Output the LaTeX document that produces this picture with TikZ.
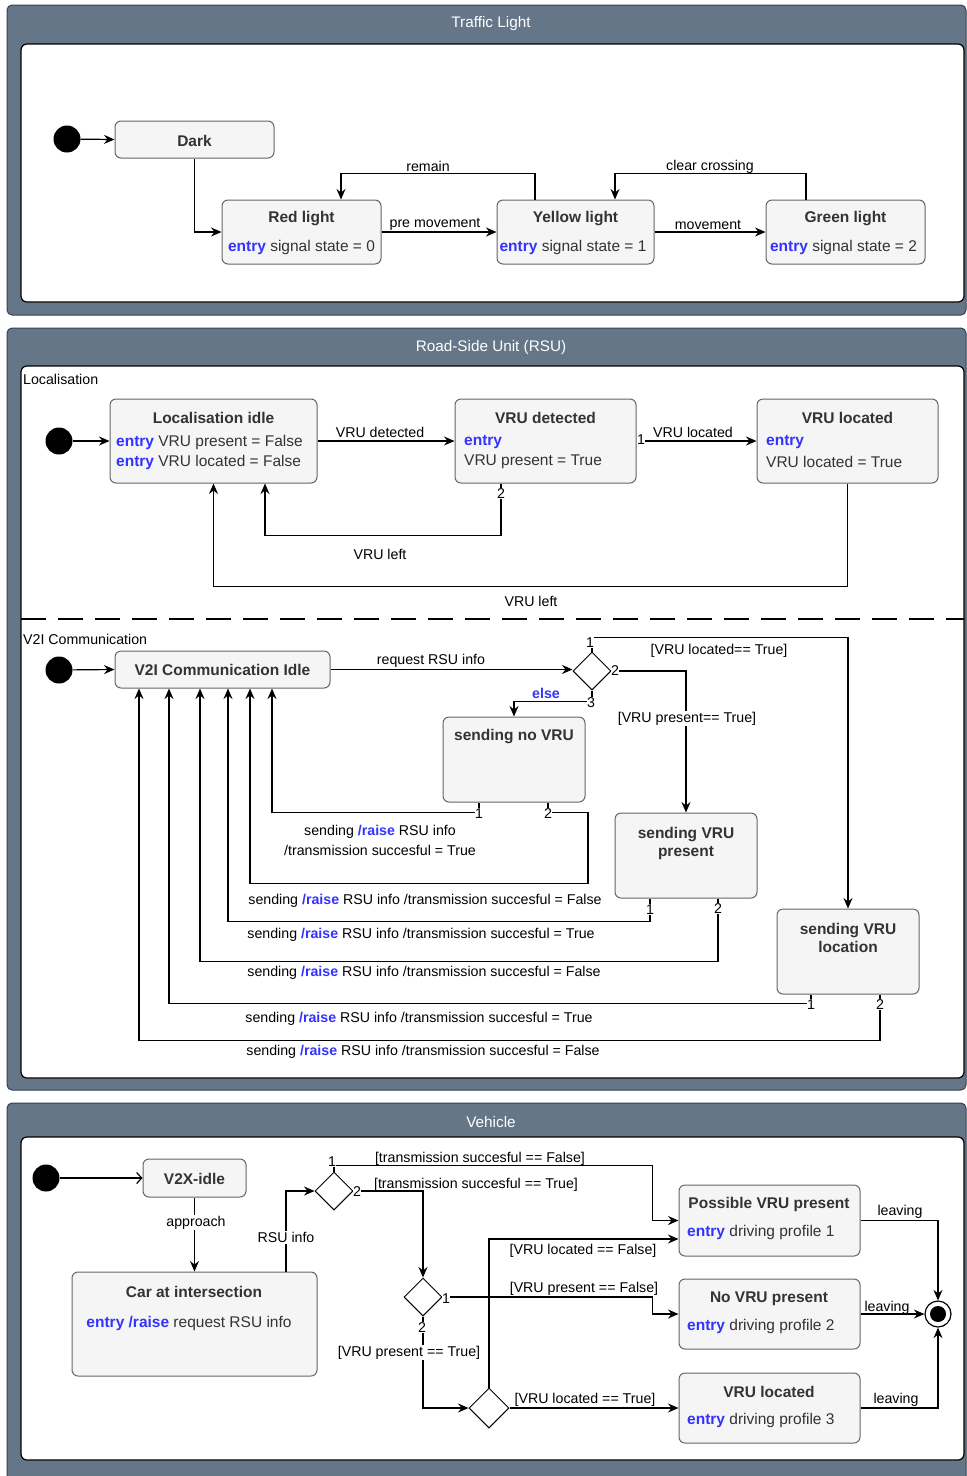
\documentclass[tikz,border=0pt]{standalone}
\usepackage{fontspec}
\setmainfont{Liberation Sans}
\usetikzlibrary{arrows.meta,shapes.geometric}
\definecolor{panel}{HTML}{647687}
\definecolor{panelb}{HTML}{314354}
\definecolor{boxf}{HTML}{F5F5F5}
\definecolor{boxd}{HTML}{666666}
\definecolor{boxt}{HTML}{333333}
\definecolor{kwblue}{HTML}{3333FF}
\newcommand\kw[1]{\textcolor{kwblue}{\bfseries #1}}
\newcommand\stbox[5]{\node[st,minimum width={(#4)-(#2)},minimum height={(#5)-(#3)}] (#1) at ({((#2)+(#4))/2},{((#3)+(#5))/2}) {};}
\tikzset{
  st/.style={draw=boxd,fill=boxf,rounded corners=6pt,line width=1pt,inner sep=0pt},
  ttl/.style={font=\fontsize{15.5}{18}\selectfont\bfseries,text=boxt,inner sep=0pt,yshift=-2pt},
  bd/.style={font=\fontsize{15.5}{18}\selectfont,text=boxt,inner sep=0pt,yshift=-2pt},
  bdl/.style={bd,anchor=west},
  lbl/.style={font=\fontsize{14.2}{16}\selectfont,inner sep=1pt,yshift=-1.5pt},
  wl/.style={lbl,fill=white},
  ptitle/.style={font=\fontsize{15.3}{18}\selectfont,text=white,yshift=-2pt},
  arr/.style={line width=1.2pt,-{Stealth[length=10.5pt,width=9pt,inset=3.5pt]}},
  oarr/.style={line width=1.2pt,-{Straight Barb[length=5pt,width=11pt]}},
  initc/.style={circle,fill=black,minimum size=27pt,inner sep=0pt},
  dia/.style={diamond,draw,fill=white,minimum size=38pt,inner sep=0pt,line width=1pt},
}
\begin{document}
\begin{tikzpicture}[x=1pt,y=-1pt]
\useasboundingbox (0,0) rectangle (967,1476);
\fill[white] (0,0) rectangle (967,1476);
% ---------- panels
\foreach \a/\b/\c/\d in {5/315/44/302, 328/1090/366/1078, 1103/1495/1137/1460}{
  \draw[fill=panel,draw=panelb,rounded corners=5pt,line width=1pt] (7,\a) rectangle (966,\b);
  \draw[fill=white,draw=black,rounded corners=6pt,line width=1.2pt] (21,\c) rectangle (964,\d);
}
\node[ptitle] (pt1) at (491,22) {Traffic Light};
\node[ptitle] (pt2) at (491,346) {Road-Side Unit (RSU)};
\node[ptitle] (pt3) at (491,1120) {Vehicle};

% ---------- Traffic light
\node[initc] (i1) at (67,139) {};
\stbox{dark}{115}{121}{274}{158}
\node[ttl] (dark-t) at (194.5,139) {Dark};
\stbox{red}{222}{200}{381}{264}
\node[ttl] (red-t) at (301.5,217) {Red light};
\node[bd] (red-e) at (301.5,245) {\kw{entry} signal state = 0};
\stbox{yel}{497}{200}{654}{264}
\node[ttl] (yel-t) at (575.5,217) {Yellow light};
\node[bd] (yel-e) at (573,245) {\kw{entry} signal state = 1};
\stbox{grn}{766}{200}{925}{264}
\node[ttl] (grn-t) at (845.5,217) {Green light};
\node[bd] (grn-e) at (843.5,245) {\kw{entry} signal state = 2};

\draw[arr] (i1) -- (dark.west);
\draw[arr] (dark.south) |- (red.west);
\draw[arr] (red.east) -- (yel.west);
\draw[arr] (yel.east) -- (grn.west);
\draw[arr] ([xshift=-40.5pt]yel.north) -- ++(0,-26) -| ([xshift=39.5pt]red.north);
\draw[arr] ([xshift=-39.5pt]grn.north) -- ++(0,-26) -| ([xshift=39.5pt]yel.north);
\node[lbl] (l-pre) at (435,223) {pre movement};
\node[lbl] (l-mov) at (708,223) {movement};
\node[lbl] (l-rem) at (428,165) {remain};
\node[lbl] (l-clr) at (710,165) {clear crossing};

% ---------- RSU: Localisation
\node[lbl,anchor=west,inner sep=0pt] (loc) at (23,378) {Localisation};
\draw[line width=1.3pt,dash pattern=on 25pt off 12pt] (21,619) -- (964,619);
\node[initc] (i2) at (59,441) {};
\stbox{lid}{110}{399}{317}{483}
\node[ttl] (lid-t) at (213.5,416) {Localisation idle};
\node[bdl] (lid-e1) at (116,440) {\kw{entry} VRU present = False};
\node[bdl] (lid-e2) at (116,460) {\kw{entry} VRU located = False};
\stbox{vdet}{455}{399}{636}{483}
\node[ttl] (vdet-t) at (545.5,416) {VRU detected};
\node[bdl] (vdet-e1) at (464,440) {\kw{entry}};
\node[bdl] (vdet-e2) at (464,460) {VRU present = True};
\stbox{vloc}{757}{399}{938}{483}
\node[ttl] (vloc-t) at (847.5,416) {VRU located};
\node[bdl] (vloc-e1) at (766,440) {\kw{entry}};
\node[bdl] (vloc-e2) at (766,460) {VRU located = True};

\draw[arr] (i2) -- (lid.west);
\draw[arr] (lid.east) -- (vdet.west);
\draw[arr] (vdet.east) -- (vloc.west);
\draw[arr] ([xshift=-44.5pt]vdet.south) -- ++(0,52) -| ([xshift=51.5pt]lid.south);
\draw[arr] (vloc.south) -- ++(0,103) -| (lid.south);
\node[lbl] (l-vd) at (380,431) {VRU detected};
\node[lbl] (l-vl) at (693,431) {VRU located};
\node[wl,inner sep=0.5pt] (n-1a) at (641,438) {1};
\node[wl] (n-2a) at (501,492) {2};
\node[lbl] (l-left1) at (380,553) {VRU left};
\node[lbl] (l-left2) at (531,600) {VRU left};

% ---------- RSU: V2I
\node[lbl,anchor=west,inner sep=0pt] (v2ic) at (23,638) {V2I Communication};
\node[initc] (i3) at (59,670) {};
\stbox{v2i}{115}{651}{330}{688}
\node[ttl] (v2i-t) at (222.5,668) {V2I Communication Idle};
\node[dia] (d1) at (592,671) {};
\stbox{snov}{443}{717}{585}{802}
\node[ttl] (snov-t) at (514,735) {sending no VRU};
\stbox{svp}{615}{813}{757}{898}
\node[ttl,align=center] (svp-t) at (686,841) {sending VRU\\present};
\stbox{svl}{777}{909}{919}{994}
\node[ttl,align=center] (svl-t) at (848,936) {sending VRU\\location};

\draw[arr] (i3) -- (v2i.west);
\draw[arr] (v2i.east) -- (v2i.east -| d1.west);
\draw[arr] (d1.north) -- ++(0,-14) -| (svl.north);
\draw[arr] (d1.east) -| (svp.north);
\draw[arr] (d1.south) -- ++(0,11) -| (snov.north);
\node[lbl] (l-req) at (431,659) {request RSU info};
\node[lbl] (l-loc) at (719,649) {[VRU located== True]};
\node[wl] (l-pres) at (687,717) {[VRU present== True]};
\node[lbl,text=kwblue,font=\fontsize{14.2}{16}\selectfont\bfseries] (l-else) at (546,692) {else};
\node[wl,inner sep=0.5pt] (n-d1a) at (590,641) {1};
\node[wl,inner sep=0.5pt] (n-d1b) at (615,669) {2};
\node[wl,inner sep=0.5pt] (n-d1c) at (591,701) {3};

% returns
\draw[arr] ([xshift=-35pt]snov.south) -- ++(0,10) -| ([xshift=49.5pt]v2i.south);
\draw[arr] ([xshift=34pt]snov.south) -- ++(0,10) -- ++(40,0) -- ++(0,71) -| ([xshift=27.5pt]v2i.south);
\draw[arr] ([xshift=-36pt]svp.south) -- ++(0,23) -| ([xshift=5.5pt]v2i.south);
\draw[arr] ([xshift=32pt]svp.south) -- ++(0,63) -| ([xshift=-22.5pt]v2i.south);
\draw[arr] ([xshift=-37pt]svl.south) -- ++(0,9) -| ([xshift=-53.5pt]v2i.south);
\draw[arr] ([xshift=32pt]svl.south) -- ++(0,46) -| ([xshift=-83.5pt]v2i.south);
\node[wl,inner sep=0.5pt] (n-s1) at (479,812) {1};
\node[wl,inner sep=0.5pt] (n-s2) at (548,812) {2};
\node[wl,inner sep=0.5pt] (n-p1) at (650,908) {1};
\node[wl,inner sep=0.5pt] (n-p2) at (718,907) {2};
\node[wl,inner sep=0.5pt] (n-l1) at (811,1003) {1};
\node[wl,inner sep=0.5pt] (n-l2) at (880,1003) {2};
\node[lbl] (r1a) at (380,830) {sending \kw{/raise} RSU info};
\node[lbl] (r1b) at (380,849) {/transmission succesful = True};
\node[lbl] (r2) at (425,899) {sending \kw{/raise} RSU info /transmission succesful = False};
\node[lbl] (r3) at (421,933) {sending \kw{/raise} RSU info /transmission succesful = True};
\node[lbl] (r4) at (424,971) {sending \kw{/raise} RSU info /transmission succesful = False};
\node[lbl] (r5) at (419,1017) {sending \kw{/raise} RSU info /transmission succesful = True};
\node[lbl] (r6) at (423,1050) {sending \kw{/raise} RSU info /transmission succesful = False};

% ---------- Vehicle
\node[initc] (i4) at (46,1178) {};
\stbox{v2x}{143}{1159}{246}{1197}
\node[ttl] (v2x-t) at (194.5,1177) {V2X-idle};
\stbox{car}{72}{1272}{317}{1376}
\node[ttl] (car-t) at (194,1290) {Car at intersection};
\node[bd] (car-e) at (189,1321) {\kw{entry /raise} request RSU info};
\node[dia] (vd1) at (334,1191) {};
\node[dia] (vd2) at (423,1297) {};
\node[dia,minimum size=40pt] (vd3) at (489,1408) {};
\stbox{pvp}{679}{1185}{860}{1256}
\node[ttl] (pvp-t) at (769,1202) {Possible VRU present};
\node[bdl] (pvp-e) at (687,1230) {\kw{entry} driving profile 1};
\stbox{nvp}{679}{1279}{860}{1349}
\node[ttl] (nvp-t) at (769,1297) {No VRU present};
\node[bdl] (nvp-e) at (687,1324) {\kw{entry} driving profile 2};
\stbox{vrul}{679}{1373}{860}{1443}
\node[ttl] (vrul-t) at (769,1390) {VRU located};
\node[bdl] (vrul-e) at (687,1418) {\kw{entry} driving profile 3};
\node[circle,draw,fill=white,line width=1.2pt,minimum size=26pt,inner sep=0pt] (fin) at (938,1314) {};
\node[circle,fill=black,minimum size=16pt,inner sep=0pt] (fin-dot) at (fin) {};

\draw[oarr] (i4) -- (v2x.west);
\draw[arr] (v2x.south) -- (car.north -| v2x.south);
\draw[arr] ([xshift=91.5pt]car.north) |- (vd1.west);
\draw[arr] (vd1.north) -- ++(0,-6) -| ([xshift=-26pt]pvp.west) -- (pvp.west);
\draw[arr] (vd1.east) -| (vd2.north);
\draw[arr] (vd2.east) -| ([xshift=-26pt]nvp.west) -- (nvp.west);
\draw[arr] (vd2.south) |- (vd3.west);
\draw[arr] (vd3.north) |- ([yshift=-18.5pt]pvp.west);
\draw[arr] (vd3.east) -- (vrul.west);
\draw[arr] (pvp.east) -| (fin.north);
\draw[arr] (nvp.east) -- (fin.west);
\draw[arr] (vrul.east) -| (fin.south);

\node[wl] (l-app) at (196,1221) {approach};
\node[wl] (l-rsu) at (286,1236) {RSU info};
\node[wl,inner sep=0.5pt] (n-v1a) at (332,1160) {1};
\node[wl,inner sep=0.5pt] (n-v1b) at (357,1190) {2};
\node[lbl] (l-tf) at (480,1157) {[transmission succesful == False]};
\node[lbl] (l-tt) at (476,1183) {[transmission succesful == True]};
\node[wl,inner sep=0.5pt] (n-v2a) at (446,1297) {1};
\node[wl,inner sep=0.5pt] (n-v2b) at (422,1326) {2};
\node[lbl] (l-pf) at (584,1287) {[VRU present == False]};
\node[wl] (l-pt) at (409,1351) {[VRU present == True]};
\node[lbl] (l-lf) at (583,1249) {[VRU located == False]};
\node[lbl] (l-lt) at (585,1398) {[VRU located == True]};
\node[lbl] (l-lv1) at (900,1210) {leaving};
\node[lbl] (l-lv2) at (887,1306) {leaving};
\node[lbl] (l-lv3) at (896,1398) {leaving};
\end{tikzpicture}
\end{document}
